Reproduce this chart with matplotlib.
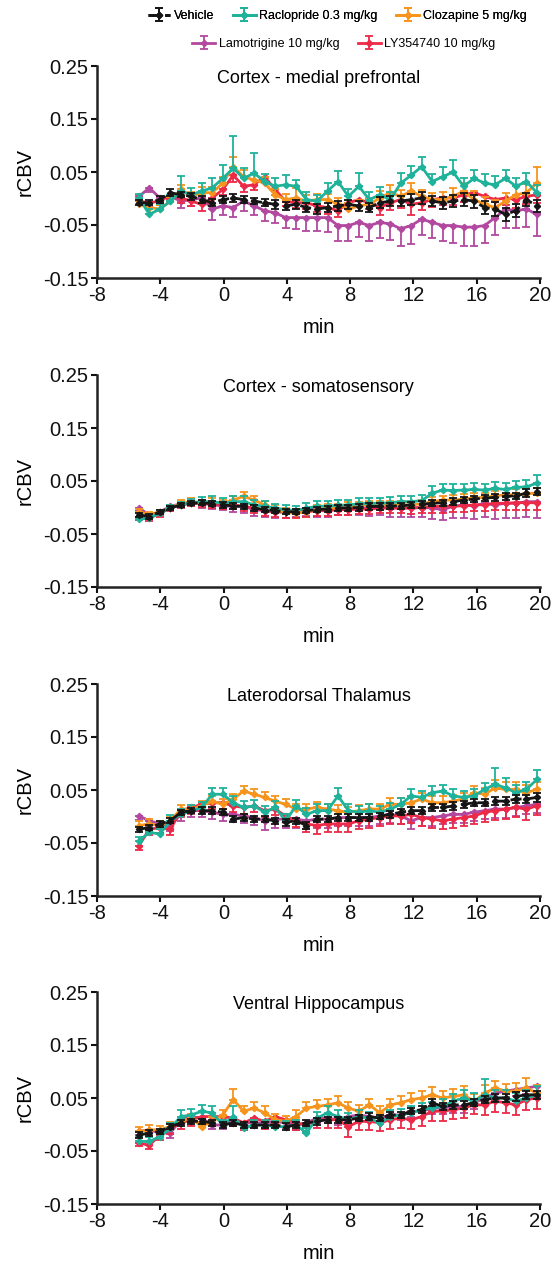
import matplotlib
matplotlib.use("Agg")
import matplotlib.pyplot as plt
import numpy as np

plt.rcParams['font.family'] = ['Liberation Sans', 'DejaVu Sans']
plt.rcParams['axes.unicode_minus'] = False

# ---- time axis (min) ----
time_min = [-5.35, -4.69, -4.03, -3.36, -2.70, -2.04, -1.38, -0.72, -0.05, 0.61,
            1.27, 1.93, 2.59, 3.26, 3.92, 4.58, 5.24, 5.90, 6.57, 7.23,
            7.89, 8.55, 9.21, 9.88, 10.54, 11.20, 11.86, 12.52, 13.19, 13.85,
            14.51, 15.17, 15.83, 16.50, 17.16, 17.82, 18.48, 19.14, 19.80]

series_names = ["Vehicle", "Raclopride 0.3 mg/kg", "Clozapine 5 mg/kg",
                "Lamotrigine 10 mg/kg", "LY354740 10 mg/kg"]
series_colors = ["#151515", "#1fb29b", "#f7941d", "#b2489f", "#ec2a48"]
region_titles = ["Cortex - medial prefrontal", "Cortex - somatosensory",
                 "Laterodorsal Thalamus", "Ventral Hippocampus"]
x_ticks = [-8, -4, 0, 4, 8, 12, 16, 20]
y_ticks = [-0.15, -0.05, 0.05, 0.15, 0.25]
y_ticklabels = ["-0.15", "-0.05", "0.05", "0.15", "0.25"]

# ---- Panel 1: Cortex - medial prefrontal ----
mpfc_vehicle = [-0.008,-0.008,-0.002,0.011,0.007,0.004,-0.002,-0.008,-0.002,0.001,-0.002,-0.005,-0.008,-0.011,-0.014,-0.011,-0.017,-0.020,-0.017,-0.014,-0.011,-0.014,-0.017,-0.008,-0.005,-0.005,-0.002,0.001,-0.005,-0.008,-0.005,-0.002,-0.005,-0.017,-0.020,-0.030,-0.023,-0.002,-0.014]
mpfc_raclopride = [0.001,-0.030,-0.020,-0.005,0.014,0.007,0.014,0.020,0.038,0.057,0.038,0.048,0.032,0.023,0.026,0.023,-0.002,-0.005,0.014,0.032,0.004,0.023,-0.002,0.007,-0.002,0.029,0.044,0.060,0.032,0.041,0.050,0.023,0.038,0.029,0.026,0.038,0.023,0.032,0.011]
mpfc_clozapine = [-0.011,-0.017,-0.020,-0.005,0.017,0.004,0.011,0.011,0.029,0.060,0.041,0.035,0.029,0.007,-0.002,0.001,-0.005,-0.002,-0.002,-0.011,-0.020,-0.014,-0.011,0.001,0.011,0.004,0.014,0.004,-0.002,-0.002,0.004,0.014,-0.002,-0.011,-0.017,-0.005,0.007,0.011,0.029]
mpfc_lamotrigine = [0.004,0.020,0.001,0.004,-0.005,-0.002,0.001,-0.020,-0.014,-0.017,-0.005,-0.014,-0.023,-0.027,-0.036,-0.036,-0.036,-0.036,-0.036,-0.051,-0.051,-0.045,-0.051,-0.045,-0.048,-0.057,-0.051,-0.039,-0.045,-0.051,-0.051,-0.054,-0.054,-0.051,-0.036,-0.020,-0.023,-0.020,-0.030]
mpfc_ly354740 = [-0.005,-0.008,-0.005,0.007,0.001,-0.005,-0.011,0.001,0.017,0.044,0.023,0.026,0.041,0.017,-0.005,-0.008,-0.008,-0.014,-0.017,-0.023,-0.008,-0.002,-0.008,-0.017,-0.008,-0.002,-0.011,-0.008,-0.002,0.001,0.001,0.007,0.011,0.004,-0.002,0.001,-0.002,0.004,0.007]
mpfc_vehicle_err = [0.005,0.005,0.006,0.006,0.005,0.006,0.006,0.007,0.006,0.007,0.007,0.006,0.007,0.008,0.008,0.008,0.008,0.009,0.008,0.009,0.009,0.010,0.009,0.010,0.010,0.009,0.010,0.011,0.010,0.011,0.011,0.012,0.012,0.012,0.013,0.013,0.012,0.012,0.012]
mpfc_raclopride_err = [0.008,0.010,0.010,0.012,0.028,0.012,0.015,0.018,0.025,0.060,0.020,0.037,0.015,0.015,0.018,0.012,0.015,0.012,0.015,0.020,0.014,0.025,0.015,0.014,0.015,0.020,0.018,0.019,0.015,0.018,0.022,0.016,0.015,0.018,0.016,0.015,0.016,0.016,0.015]
mpfc_clozapine_err = [0.006,0.006,0.007,0.008,0.008,0.008,0.010,0.010,0.012,0.018,0.012,0.012,0.012,0.010,0.010,0.018,0.012,0.010,0.010,0.012,0.012,0.012,0.012,0.014,0.015,0.012,0.016,0.012,0.012,0.014,0.016,0.016,0.016,0.014,0.014,0.016,0.016,0.016,0.030]
mpfc_lamotrigine_err = [0.008,0.008,0.010,0.010,0.012,0.012,0.012,0.020,0.018,0.018,0.018,0.018,0.020,0.020,0.020,0.022,0.025,0.025,0.028,0.030,0.030,0.028,0.030,0.030,0.030,0.032,0.035,0.030,0.030,0.030,0.033,0.035,0.035,0.033,0.033,0.035,0.033,0.033,0.040]
mpfc_ly354740_err = [0.006,0.006,0.007,0.008,0.010,0.010,0.012,0.010,0.010,0.012,0.010,0.010,0.010,0.010,0.010,0.010,0.012,0.012,0.012,0.012,0.012,0.012,0.012,0.014,0.014,0.016,0.020,0.014,0.014,0.014,0.014,0.014,0.014,0.014,0.014,0.014,0.015,0.015,0.015]

# ---- Panel 2: Cortex - somatosensory ----
ssc_vehicle = [-0.014,-0.017,-0.008,-0.001,0.005,0.008,0.009,0.007,0.005,0.003,0.002,-0.001,-0.004,-0.006,-0.008,-0.008,-0.006,-0.004,-0.003,-0.001,-0.001,0.000,0.002,0.002,0.003,0.003,0.005,0.006,0.008,0.009,0.011,0.014,0.016,0.018,0.019,0.021,0.022,0.027,0.030]
ssc_raclopride = [-0.022,-0.020,-0.011,-0.001,0.005,0.009,0.011,0.011,0.008,0.011,0.011,0.005,0.002,-0.001,-0.004,-0.006,-0.001,0.002,0.003,0.004,0.005,0.007,0.008,0.008,0.009,0.011,0.011,0.013,0.027,0.033,0.032,0.033,0.034,0.033,0.036,0.034,0.038,0.039,0.046]
ssc_clozapine = [-0.008,-0.014,-0.009,-0.001,0.008,0.011,0.009,0.011,0.008,0.014,0.021,0.014,0.005,-0.004,-0.009,-0.011,-0.008,-0.004,-0.001,-0.001,0.002,0.003,0.005,0.005,0.005,0.005,0.005,0.007,0.011,0.014,0.014,0.016,0.018,0.019,0.022,0.024,0.024,0.026,0.027]
ssc_lamotrigine = [-0.001,-0.014,-0.008,0.002,0.007,0.009,0.008,0.005,0.003,0.002,0.002,-0.004,-0.006,-0.008,-0.008,-0.006,-0.004,-0.004,-0.003,-0.001,-0.001,-0.001,-0.001,0.000,-0.001,-0.001,-0.001,0.000,-0.001,-0.004,0.002,0.005,0.003,0.008,0.005,0.008,0.008,0.011,0.011]
ssc_ly354740 = [-0.017,-0.020,-0.011,-0.001,0.005,0.008,0.008,0.007,0.005,0.005,0.002,-0.001,-0.006,-0.008,-0.009,-0.009,-0.008,-0.006,-0.006,-0.004,-0.004,-0.003,-0.003,-0.001,-0.001,-0.001,-0.001,0.000,0.002,0.002,0.003,0.003,0.005,0.005,0.008,0.008,0.009,0.009,0.009]
ssc_vehicle_err = [0.004,0.004,0.004,0.004,0.004,0.004,0.005,0.005,0.005,0.005,0.005,0.005,0.005,0.005,0.005,0.005,0.005,0.005,0.005,0.005,0.005,0.006,0.006,0.006,0.006,0.006,0.006,0.006,0.006,0.006,0.006,0.006,0.006,0.006,0.006,0.006,0.006,0.007,0.007]
ssc_raclopride_err = [0.005,0.005,0.006,0.006,0.006,0.007,0.008,0.010,0.010,0.010,0.010,0.010,0.010,0.008,0.008,0.008,0.010,0.010,0.010,0.010,0.010,0.010,0.010,0.010,0.010,0.010,0.010,0.010,0.013,0.012,0.012,0.012,0.012,0.012,0.012,0.012,0.012,0.012,0.015]
ssc_clozapine_err = [0.005,0.006,0.005,0.006,0.006,0.006,0.006,0.007,0.007,0.007,0.008,0.008,0.008,0.008,0.008,0.008,0.008,0.008,0.008,0.008,0.008,0.008,0.008,0.008,0.008,0.008,0.008,0.008,0.008,0.008,0.009,0.009,0.009,0.009,0.009,0.010,0.010,0.010,0.010]
ssc_lamotrigine_err = [0.006,0.006,0.006,0.006,0.006,0.007,0.008,0.008,0.008,0.010,0.012,0.012,0.012,0.012,0.012,0.012,0.012,0.014,0.014,0.014,0.014,0.014,0.015,0.015,0.016,0.016,0.016,0.018,0.020,0.020,0.022,0.024,0.024,0.026,0.026,0.028,0.028,0.028,0.030]
ssc_ly354740_err = [0.006,0.006,0.006,0.006,0.006,0.006,0.007,0.008,0.008,0.008,0.009,0.010,0.010,0.010,0.010,0.010,0.010,0.010,0.010,0.010,0.010,0.010,0.010,0.010,0.010,0.010,0.011,0.011,0.012,0.012,0.012,0.012,0.012,0.012,0.012,0.013,0.013,0.013,0.013]

# ---- Panel 3: Laterodorsal Thalamus ----
ldt_vehicle = [-0.024,-0.021,-0.014,-0.008,0.008,0.011,0.011,0.011,0.008,-0.005,-0.002,-0.005,-0.005,-0.008,-0.011,-0.008,-0.017,-0.005,-0.005,-0.002,-0.002,-0.002,-0.002,0.001,0.004,0.008,0.011,0.011,0.017,0.017,0.020,0.023,0.026,0.026,0.029,0.029,0.033,0.033,0.036]
ldt_raclopride = [-0.046,-0.030,-0.033,-0.008,0.004,0.011,0.017,0.042,0.042,0.026,0.017,0.020,0.008,0.017,-0.008,0.020,0.004,0.011,0.011,0.039,0.011,0.008,0.011,0.008,0.014,0.023,0.039,0.036,0.045,0.048,0.039,0.036,0.039,0.051,0.061,0.054,0.045,0.051,0.070]
ldt_clozapine = [-0.017,-0.014,-0.017,-0.008,0.014,0.014,0.020,0.029,0.023,0.033,0.048,0.042,0.036,0.029,0.023,0.014,0.014,0.017,0.014,0.011,0.008,0.011,0.014,0.014,0.023,0.023,0.026,0.033,0.026,0.026,0.029,0.033,0.045,0.042,0.054,0.051,0.051,0.045,0.051]
ldt_lamotrigine = [0.001,-0.008,-0.014,-0.017,0.004,0.011,0.011,0.008,0.004,0.004,0.001,-0.002,-0.008,-0.005,-0.005,-0.005,-0.008,-0.005,-0.005,-0.002,-0.002,-0.002,-0.002,0.001,0.004,0.001,-0.008,-0.002,-0.002,0.001,0.004,0.004,0.008,0.011,0.014,0.014,0.017,0.020,0.023]
ldt_ly354740 = [-0.055,-0.024,-0.021,-0.024,0.011,0.017,0.023,0.026,0.026,0.020,0.017,0.020,0.011,0.014,0.001,-0.008,-0.014,-0.017,-0.014,-0.014,-0.014,-0.008,-0.005,-0.002,0.001,0.001,0.004,-0.002,-0.005,-0.008,-0.005,-0.002,0.001,0.008,0.011,0.014,0.017,0.014,0.020]
ldt_vehicle_err = [0.005,0.005,0.005,0.005,0.005,0.005,0.006,0.006,0.006,0.006,0.006,0.006,0.006,0.006,0.006,0.006,0.006,0.006,0.006,0.006,0.006,0.006,0.006,0.006,0.006,0.006,0.006,0.007,0.007,0.007,0.007,0.007,0.007,0.007,0.007,0.008,0.008,0.008,0.008]
ldt_raclopride_err = [0.008,0.008,0.010,0.010,0.010,0.010,0.010,0.012,0.012,0.012,0.012,0.012,0.012,0.012,0.012,0.012,0.012,0.012,0.012,0.015,0.012,0.012,0.012,0.012,0.012,0.012,0.012,0.012,0.012,0.012,0.012,0.012,0.012,0.012,0.030,0.018,0.015,0.015,0.018]
ldt_clozapine_err = [0.008,0.010,0.008,0.008,0.008,0.008,0.010,0.010,0.010,0.010,0.010,0.010,0.010,0.010,0.010,0.010,0.010,0.010,0.010,0.010,0.010,0.010,0.010,0.010,0.012,0.012,0.012,0.012,0.012,0.012,0.012,0.012,0.012,0.012,0.014,0.014,0.014,0.014,0.014]
ldt_lamotrigine_err = [0.008,0.010,0.010,0.010,0.012,0.012,0.012,0.012,0.012,0.012,0.014,0.014,0.018,0.016,0.016,0.016,0.016,0.016,0.016,0.016,0.016,0.016,0.016,0.016,0.016,0.016,0.016,0.016,0.016,0.016,0.016,0.016,0.016,0.016,0.016,0.016,0.016,0.016,0.016]
ldt_ly354740_err = [0.008,0.010,0.010,0.010,0.012,0.012,0.012,0.012,0.012,0.012,0.012,0.012,0.012,0.012,0.012,0.012,0.016,0.016,0.016,0.016,0.016,0.016,0.016,0.016,0.016,0.016,0.016,0.016,0.016,0.016,0.016,0.016,0.016,0.018,0.018,0.018,0.018,0.020,0.018]

# ---- Panel 4: Ventral Hippocampus ----
vhc_vehicle = [-0.020,-0.016,-0.013,-0.004,0.003,0.006,0.006,0.003,-0.001,0.003,-0.001,-0.001,-0.001,-0.001,-0.004,-0.001,0.003,0.006,0.009,0.009,0.009,0.012,0.015,0.012,0.018,0.018,0.025,0.028,0.041,0.034,0.037,0.037,0.041,0.047,0.050,0.050,0.053,0.056,0.056]
vhc_raclopride = [-0.032,-0.032,-0.023,-0.007,0.015,0.018,0.025,0.022,-0.001,0.015,-0.007,-0.001,-0.001,-0.004,-0.004,-0.001,-0.016,0.012,0.022,0.015,0.009,0.015,0.012,0.003,0.015,0.018,0.022,0.028,0.031,0.034,0.044,0.050,0.044,0.056,0.050,0.050,0.044,0.050,0.056]
vhc_clozapine = [-0.013,-0.010,-0.010,-0.004,0.006,0.012,-0.004,0.006,0.018,0.047,0.025,0.031,0.022,0.009,0.006,0.015,0.031,0.034,0.037,0.041,0.031,0.025,0.037,0.022,0.037,0.041,0.047,0.050,0.056,0.050,0.053,0.056,0.044,0.059,0.069,0.063,0.063,0.069,0.059]
vhc_lamotrigine = [-0.013,-0.010,-0.016,-0.016,0.009,0.015,0.012,-0.001,-0.001,0.009,0.003,0.003,0.003,0.006,0.003,-0.001,0.003,0.012,0.012,0.009,0.015,0.018,0.015,0.012,0.018,0.018,0.025,0.025,0.031,0.031,0.034,0.034,0.041,0.050,0.059,0.063,0.066,0.069,0.072]
vhc_ly354740 = [-0.035,-0.039,-0.020,-0.007,0.003,0.009,0.015,0.015,0.015,0.012,0.003,0.012,0.006,0.015,0.009,0.003,-0.001,0.009,0.009,0.009,-0.004,0.006,0.006,0.003,0.009,0.012,0.009,0.015,0.025,0.025,0.028,0.031,0.037,0.037,0.044,0.041,0.037,0.047,0.050]
vhc_vehicle_err = [0.005,0.005,0.005,0.005,0.005,0.005,0.005,0.006,0.006,0.006,0.006,0.006,0.006,0.006,0.006,0.006,0.006,0.006,0.006,0.006,0.006,0.006,0.006,0.006,0.006,0.006,0.006,0.006,0.007,0.007,0.007,0.007,0.007,0.007,0.007,0.008,0.008,0.008,0.008]
vhc_raclopride_err = [0.008,0.008,0.008,0.010,0.012,0.012,0.012,0.012,0.010,0.020,0.010,0.010,0.010,0.010,0.010,0.010,0.010,0.012,0.012,0.012,0.012,0.012,0.012,0.012,0.012,0.012,0.012,0.012,0.012,0.014,0.014,0.016,0.016,0.030,0.016,0.016,0.016,0.016,0.016]
vhc_clozapine_err = [0.008,0.010,0.008,0.008,0.008,0.008,0.008,0.008,0.010,0.020,0.010,0.012,0.012,0.010,0.010,0.012,0.012,0.012,0.012,0.012,0.012,0.012,0.012,0.012,0.012,0.012,0.012,0.014,0.014,0.014,0.014,0.016,0.014,0.016,0.014,0.014,0.016,0.018,0.016]
vhc_lamotrigine_err = [0.006,0.006,0.008,0.010,0.008,0.008,0.008,0.008,0.008,0.010,0.010,0.010,0.010,0.010,0.010,0.010,0.010,0.010,0.010,0.010,0.010,0.010,0.010,0.010,0.010,0.010,0.010,0.010,0.012,0.012,0.012,0.012,0.012,0.012,0.012,0.012,0.012,0.012,0.012]
vhc_ly354740_err = [0.006,0.008,0.010,0.010,0.012,0.012,0.012,0.012,0.014,0.014,0.014,0.014,0.014,0.014,0.014,0.014,0.014,0.016,0.016,0.016,0.020,0.016,0.016,0.016,0.018,0.018,0.018,0.018,0.018,0.018,0.018,0.018,0.018,0.020,0.020,0.020,0.020,0.020,0.020]

panels = [
    ([mpfc_vehicle, mpfc_raclopride, mpfc_clozapine, mpfc_lamotrigine, mpfc_ly354740],
     [mpfc_vehicle_err, mpfc_raclopride_err, mpfc_clozapine_err, mpfc_lamotrigine_err, mpfc_ly354740_err]),
    ([ssc_vehicle, ssc_raclopride, ssc_clozapine, ssc_lamotrigine, ssc_ly354740],
     [ssc_vehicle_err, ssc_raclopride_err, ssc_clozapine_err, ssc_lamotrigine_err, ssc_ly354740_err]),
    ([ldt_vehicle, ldt_raclopride, ldt_clozapine, ldt_lamotrigine, ldt_ly354740],
     [ldt_vehicle_err, ldt_raclopride_err, ldt_clozapine_err, ldt_lamotrigine_err, ldt_ly354740_err]),
    ([vhc_vehicle, vhc_raclopride, vhc_clozapine, vhc_lamotrigine, vhc_ly354740],
     [vhc_vehicle_err, vhc_raclopride_err, vhc_clozapine_err, vhc_lamotrigine_err, vhc_ly354740_err]),
]

# error direction per series: both / up / up / down / down
err_dir = ["both", "up", "up", "down", "down"]
zorders = [6, 5, 4, 2, 3]
linestyles = [(0, (4, 2)), "-", "-", "-", "-"]

W, H = 551, 1261
fig = plt.figure(figsize=(W / 100, H / 100), dpi=100)

ax_left = 97 / W
ax_width = 443 / W
ax_h = 212 / H
bottoms_px = [278, 587, 896, 1204]

handles = []
for p, (vals, errs) in enumerate(panels):
    ax = fig.add_axes([ax_left, 1 - bottoms_px[p] / H, ax_width, ax_h])
    t = np.array(time_min)
    for s in range(5):
        v = np.array(vals[s])
        e = np.array(errs[s])
        z = np.zeros_like(e)
        if err_dir[s] == "up":
            yerr = [z, e]
        elif err_dir[s] == "down":
            yerr = [e, z]
        else:
            yerr = [e, e]
        cont = ax.errorbar(t, v, yerr=yerr, color=series_colors[s],
                           linestyle=linestyles[s], linewidth=2.0,
                           marker="D", markersize=3.2,
                           elinewidth=1.3, capsize=2.8, capthick=1.3,
                           zorder=zorders[s], label=series_names[s])
        if p == 0:
            handles.append(cont)
    ax.set_xlim(-8, 20)
    ax.set_ylim(-0.15, 0.25)
    ax.set_xticks(x_ticks)
    ax.set_yticks(y_ticks)
    ax.set_yticklabels(y_ticklabels)
    ax.tick_params(axis="both", direction="out", length=4, width=1.5,
                   labelsize=14.5, pad=2, colors="#111111")
    for side in ["top", "right"]:
        ax.spines[side].set_visible(False)
    for side in ["left", "bottom"]:
        ax.spines[side].set_linewidth(1.8)
        ax.spines[side].set_color("#222222")
    ax.set_xlabel("min", fontsize=14.5, labelpad=9)
    ax.set_ylabel("rCBV", fontsize=14.5, labelpad=6)
    ax.text(0.5, 0.94, region_titles[p], transform=ax.transAxes,
            ha="center", va="center", fontsize=13)

leg1 = fig.legend(handles[:3], series_names[:3], loc="center",
                  bbox_to_anchor=(337 / W, 1 - 16 / H), ncol=3, frameon=False,
                  fontsize=9.0, handlelength=1.8, handletextpad=0.3,
                  columnspacing=1.5, borderpad=0)
fig.add_artist(leg1)
leg2 = fig.legend(handles[3:], series_names[3:], loc="center",
                  bbox_to_anchor=(344 / W, 1 - 44 / H), ncol=2, frameon=False,
                  fontsize=9.0, handlelength=1.8, handletextpad=0.3,
                  columnspacing=1.5, borderpad=0)

fig.savefig("out.png", dpi=100)
